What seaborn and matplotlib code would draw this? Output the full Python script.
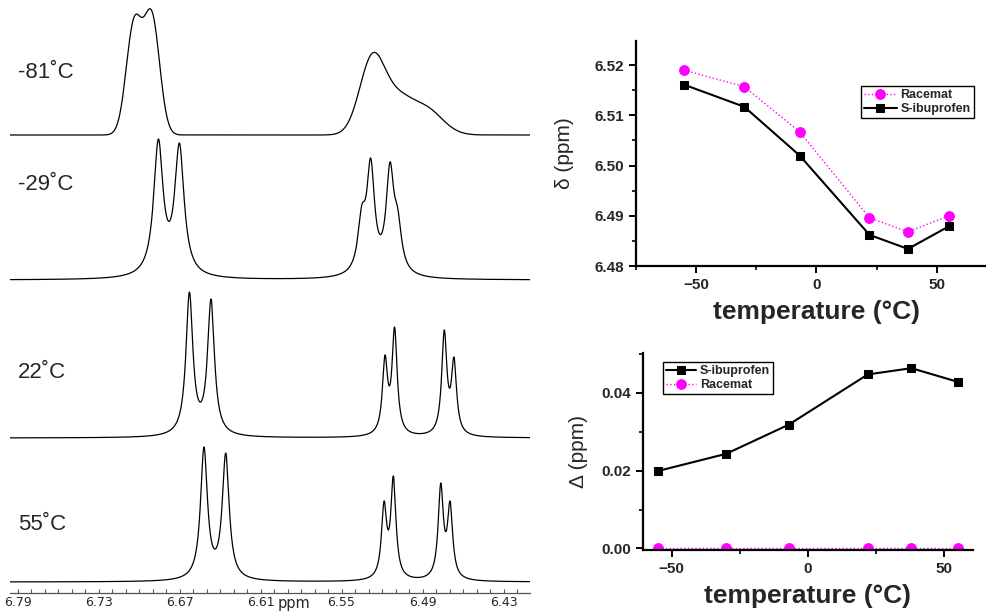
import numpy as np
import pandas as pd
import seaborn as sns
import matplotlib.pyplot as plt
from matplotlib.ticker import MultipleLocator, FixedLocator, FormatStrFormatter

# --- right panels: temperature dependence ---
temps = [-55, -30, -7, 22, 38, 55]
shift_racemat = [6.5190, 6.5157, 6.5067, 6.4896, 6.4868, 6.4900]
shift_sibu = [6.5161, 6.5117, 6.5020, 6.4862, 6.4834, 6.4879]
delta_sibu = [0.0199, 0.0243, 0.0318, 0.0447, 0.0463, 0.0428]
delta_racemat = [0.0, 0.0, 0.0, 0.0, 0.0, 0.0]

# --- left panel: 1H NMR spectra, peaks ---
spec_labels = ['-81˚C', '-29˚C', '22˚C', '55˚C']
spec_shapes = ['gauss', 'lorentz', 'lorentz', 'lorentz']
spec_centers = [
    [6.7037, 6.6905, 6.5270, 6.5080, 6.4880],
    [6.6857, 6.6701, 6.5350, 6.5284, 6.5141, 6.5084],
    [6.6627, 6.6467, 6.5178, 6.5107, 6.4739, 6.4667],
    [6.6519, 6.6358, 6.5185, 6.5116, 6.4765, 6.4696],
]
spec_heights = [
    [118, 124, 82, 46, 30],
    [141, 137, 75, 122, 118, 72],
    [146, 139, 83, 111, 108, 81],
    [135, 129, 81, 106, 99, 81],
]
spec_widths = [
    [0.0058, 0.0058, 0.0095, 0.0100, 0.0125],
    [0.0042, 0.0042, 0.0035, 0.0035, 0.0035, 0.0035],
    [0.0031, 0.0031, 0.0023, 0.0023, 0.0023, 0.0023],
    [0.0031, 0.0031, 0.0023, 0.0023, 0.0023, 0.0023],
]
ppm_ticks = [6.79, 6.73, 6.67, 6.61, 6.55, 6.49, 6.43]


def peak(p, c, w, shape):
    if shape == 'gauss':
        return np.exp(-0.5 * ((p - c) / w) ** 2)
    return 1.0 / (1.0 + ((p - c) / w) ** 2)


def spectrum(ppm, centers, heights, widths, shape):
    """Sum of peaks whose summed height at each centre equals the read height"""
    M = np.array([[peak(ci, cj, wj, shape) for cj, wj in zip(centers, widths)]
                  for ci in centers])
    amps = np.linalg.solve(M, heights)
    return sum(a * peak(ppm, c, w, shape) for a, c, w in zip(amps, centers, widths))


sns.set_style("ticks")
plt.rcParams['font.family'] = ['Liberation Sans', 'DejaVu Sans']

fig = plt.figure(figsize=(9.87, 6.11), dpi=100)

# ---------------- spectra ----------------
ax_s = fig.add_axes([10 / 987, 18 / 611, 520 / 987, 593 / 611])
ppm = np.arange(6.4100, 6.7960, 0.0001)
offsets = [458, 313, 155, 11]
for lab, shp, cen, hts, wid, off in zip(spec_labels, spec_shapes, spec_centers,
                                        spec_heights, spec_widths, offsets):
    y = spectrum(ppm, cen, hts, wid, shp) + off
    sns.lineplot(x=ppm, y=y, ax=ax_s, color='black', linewidth=0.9, sort=False)
ax_s.set_xlim(6.7956, 6.4104)
ax_s.set_ylim(0, 593)
for lab, ty in zip(spec_labels, [520, 408, 220, 68]):
    ax_s.text(6.7896, ty, lab, fontsize=16, ha='left', va='center')
for side in ['left', 'top', 'right']:
    ax_s.spines[side].set_visible(False)
ax_s.spines['bottom'].set_color('#555555')
ax_s.spines['bottom'].set_linewidth(0.9)
ax_s.set_yticks([])
ax_s.xaxis.set_major_locator(FixedLocator(ppm_ticks))
ax_s.xaxis.set_minor_locator(MultipleLocator(0.01))
ax_s.set_xticklabels([f'{t:.2f}' for t in ppm_ticks], family='DejaVu Sans', fontsize=9)
ax_s.tick_params(axis='x', which='both', direction='in', length=3, width=0.8,
                 color='#555555', pad=2)
ax_s.text(6.585, -0.005, 'ppm', transform=ax_s.get_xaxis_transform(),
          family='DejaVu Sans', fontsize=10.5, ha='center', va='top')
ax_s.set_xlabel('')
ax_s.set_ylabel('')


def style_axes(ax):
    for side in ['top', 'right']:
        ax.spines[side].set_visible(False)
    for side in ['left', 'bottom']:
        ax.spines[side].set_linewidth(1.6)
        ax.spines[side].set_color('black')
    ax.tick_params(which='major', direction='out', length=5, width=1.4, color='black')
    ax.tick_params(which='minor', direction='out', length=3, width=1.2, color='black')
    for t in ax.get_xticklabels() + ax.get_yticklabels():
        t.set_fontweight('bold')
        t.set_fontsize(11)
    ax.set_xlabel('temperature (°C)', fontsize=19, fontweight='bold', labelpad=6)


leg_kw = dict(frameon=True, fancybox=False, framealpha=1, edgecolor='black',
              borderpad=0.25, labelspacing=0.15, handletextpad=0.3,
              borderaxespad=0, prop={'weight': 'bold', 'size': 9})

# ---------------- chemical shift ----------------
ax1 = fig.add_axes([636 / 987, 1 - 266 / 611, 361 / 987, 225 / 611])
sns.lineplot(x=temps, y=shift_racemat, ax=ax1, color='#ff00ff', linestyle=':',
             linewidth=1.0, marker='o', markersize=7, markeredgecolor='#ff00ff',
             label='Racemat')
sns.lineplot(x=temps, y=shift_sibu, ax=ax1, color='black', linewidth=1.5,
             marker='s', markersize=6, markeredgecolor='black', label='S-ibuprofen')
ax1.set_xlim(-75, 75)
ax1.set_ylim(6.48, 6.5248)
ax1.xaxis.set_major_locator(MultipleLocator(50))
ax1.xaxis.set_minor_locator(MultipleLocator(25))
ax1.yaxis.set_major_locator(MultipleLocator(0.01))
ax1.yaxis.set_minor_locator(MultipleLocator(0.005))
ax1.yaxis.set_major_formatter(FormatStrFormatter('%.2f'))
style_axes(ax1)
ax1.set_ylabel('δ (ppm)', fontsize=15, labelpad=15)
ax1.legend(loc='upper left', bbox_to_anchor=(0.623, 0.80), handlelength=2.6, **leg_kw)

# ---------------- splitting ----------------
ax2 = fig.add_axes([643 / 987, 1 - 550 / 611, 330 / 987, 197 / 611])
sns.lineplot(x=temps, y=delta_sibu, ax=ax2, color='black', linewidth=1.5,
             marker='s', markersize=6, markeredgecolor='black', label='S-ibuprofen')
sns.lineplot(x=temps, y=delta_racemat, ax=ax2, color='#ff00ff', linestyle=':',
             linewidth=1.0, marker='o', markersize=7, markeredgecolor='#ff00ff',
             label='Racemat')
ax2.set_xlim(-60.5, 60.6)
ax2.set_ylim(-0.0004, 0.0502)
ax2.xaxis.set_major_locator(MultipleLocator(50))
ax2.xaxis.set_minor_locator(MultipleLocator(25))
ax2.yaxis.set_major_locator(MultipleLocator(0.02))
ax2.yaxis.set_minor_locator(MultipleLocator(0.01))
ax2.yaxis.set_major_formatter(FormatStrFormatter('%.2f'))
style_axes(ax2)
ax2.set_ylabel('Δ (ppm)', fontsize=15, labelpad=10)
ax2.legend(loc='upper left', bbox_to_anchor=(0.06, 0.954), handlelength=2.4, **leg_kw)

fig.savefig('out.png', dpi=100, facecolor='white')
